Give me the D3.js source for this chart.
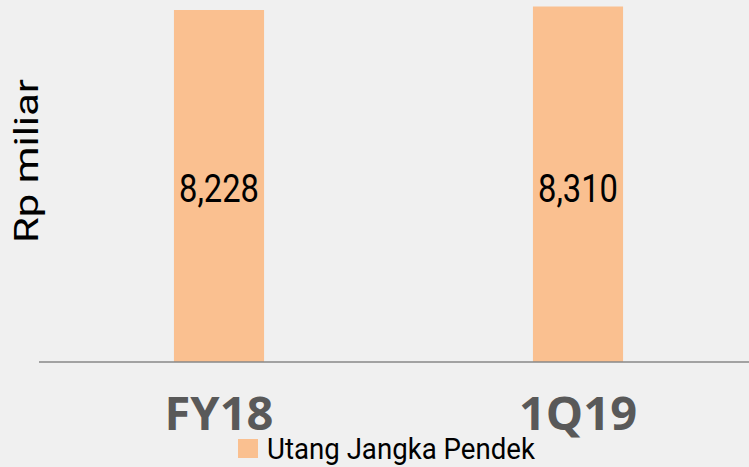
<!DOCTYPE html>
<html lang="en">
<head>
<meta charset="UTF-8" />
<title>Utang Jangka Pendek</title>
<script src="https://d3js.org/d3.v7.min.js"></script>
<style>
  html, body { margin: 0; padding: 0; background: #f0f0f0; }
  svg { display: block; }
</style>
</head>
<body>
<svg width="749" height="467"></svg>
<script>
const width = 749;
const height = 467;

// data
const categories = ["FY18", "1Q19"];
const values = [8228, 8310];
const valueLabels = ["8,228", "8,310"];
const seriesName = "Utang Jangka Pendek";
const yTitle = "Rp miliar";

const barColor = "#fac090";
const baseY = 362;

const svg = d3.select("svg");

svg.append("rect")
  .attr("width", width)
  .attr("height", height)
  .attr("fill", "#f0f0f0");

const x = d3.scaleBand()
  .domain(categories)
  .range([39.5, 757.5])
  .paddingInner(0.749)
  .paddingOuter(0.3745);

const y = d3.scaleLinear()
  .domain([0, 8462])
  .range([baseY, 0]);

// bars
svg.append("g")
  .selectAll("rect")
  .data(categories)
  .join("rect")
  .attr("x", (d) => x(d))
  .attr("y", (d, i) => y(values[i]))
  .attr("width", x.bandwidth())
  .attr("height", (d, i) => baseY - y(values[i]))
  .attr("fill", barColor);

// value labels inside bars
svg.append("g")
  .selectAll("text")
  .data(categories)
  .join("text")
  .attr("x", (d) => x(d) + x.bandwidth() / 2)
  .attr("y", 202)
  .attr("text-anchor", "middle")
  .attr("font-family", "Roboto, sans-serif")
  .attr("font-size", 38)
  .attr("fill", "#000")
  .attr("textLength", 80)
  .attr("lengthAdjust", "spacingAndGlyphs")
  .text((d, i) => valueLabels[i]);

// x axis with category labels
const xAxis = svg.append("g")
  .attr("transform", `translate(0,${baseY})`)
  .call(d3.axisBottom(x).tickSize(0));

xAxis.select(".domain")
  .attr("stroke", "#898989")
  .attr("stroke-width", 1.5)
  .attr("d", `M39,0H${width}`);

xAxis.selectAll(".tick text")
  .attr("y", 68)
  .attr("dy", 0)
  .attr("font-family", "'Open Sans', sans-serif")
  .attr("font-weight", "bold")
  .attr("font-size", 47)
  .attr("fill", "#595959");

// y title
svg.append("text")
  .attr("transform", "translate(38,161) rotate(-90)")
  .attr("text-anchor", "middle")
  .attr("font-family", "Roboto, sans-serif")
  .attr("font-size", 34)
  .attr("fill", "#000")
  .attr("textLength", 164)
  .attr("lengthAdjust", "spacingAndGlyphs")
  .text(yTitle);

// legend
const legend = svg.append("g").attr("transform", "translate(238,439)");
legend.append("rect")
  .attr("width", 20)
  .attr("height", 19)
  .attr("fill", barColor);
legend.append("text")
  .attr("x", 29)
  .attr("y", 20)
  .attr("font-family", "Roboto, sans-serif")
  .attr("font-size", 30)
  .attr("fill", "#000")
  .attr("textLength", 268)
  .attr("lengthAdjust", "spacingAndGlyphs")
  .text(seriesName);
</script>
</body>
</html>
